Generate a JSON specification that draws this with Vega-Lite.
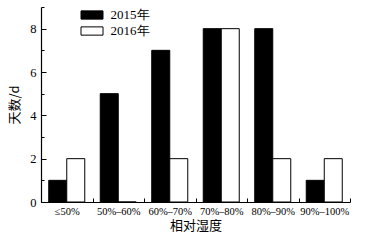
{
  "$schema": "https://vega.github.io/schema/vega-lite/v6.json",
  "width": 309,
  "height": 195,
  "autosize": {"type": "none"},
  "padding": {"left": 41, "top": 7, "right": 18, "bottom": 42},
  "background": "white",
  "config": {
    "view": {"stroke": null},
    "font": "Liberation Serif",
    "axis": {"labelFont": "Liberation Serif", "titleFont": "Noto Sans CJK SC", "labelColor": "black", "titleColor": "black", "domainColor": "black", "tickColor": "black", "grid": false}
  },
  "data": {
    "values": [
      {"rh": "≤50%", "year": "2015年", "days": 1},
      {"rh": "≤50%", "year": "2016年", "days": 2},
      {"rh": "50%–60%", "year": "2015年", "days": 5},
      {"rh": "50%–60%", "year": "2016年", "days": 0},
      {"rh": "60%–70%", "year": "2015年", "days": 7},
      {"rh": "60%–70%", "year": "2016年", "days": 2},
      {"rh": "70%–80%", "year": "2015年", "days": 8},
      {"rh": "70%–80%", "year": "2016年", "days": 8},
      {"rh": "80%–90%", "year": "2015年", "days": 8},
      {"rh": "80%–90%", "year": "2016年", "days": 2},
      {"rh": "90%–100%", "year": "2015年", "days": 1},
      {"rh": "90%–100%", "year": "2016年", "days": 2}
    ]
  },
  "mark": {"type": "bar", "stroke": "black", "strokeWidth": 1},
  "encoding": {
    "x": {
      "field": "rh", "type": "nominal", "sort": null,
      "scale": {"paddingInner": 0, "paddingOuter": 0},
      "axis": {
        "title": "相对湿度", "titleFontSize": 13, "titleFontWeight": "normal", "titlePadding": 3,
        "labelAngle": 0, "labelFontSize": 10.5, "labelPadding": 8,
        "tickBand": "extent", "tickSize": -4, "domainWidth": 1.2
      }
    },
    "xOffset": {"field": "year", "type": "nominal", "scale": {"paddingInner": 0, "paddingOuter": 0.43}},
    "y": {
      "field": "days", "type": "quantitative",
      "scale": {"domain": [0, 9], "nice": false},
      "axis": {
        "title": "天数/d", "titleFontSize": 13, "titleFontWeight": "normal", "titlePadding": 8,
        "values": [0, 1, 2, 3, 4, 5, 6, 7, 8, 9],
        "labelExpr": "datum.value % 2 == 0 ? datum.label : ''",
        "labelFontSize": 12.5, "labelPadding": 10,
        "tickSize": {"condition": {"test": "datum.value % 2 == 1", "value": -3}, "value": -5},
        "domainWidth": 1.2
      }
    },
    "fill": {
      "field": "year", "type": "nominal",
      "scale": {"domain": ["2015年", "2016年"], "range": ["black", "white"]},
      "legend": {
        "title": null, "orient": "none", "legendX": 44.5, "legendY": 1.5,
        "padding": 0, "rowPadding": 2,
        "symbolType": "M-2,-0.75H2V0.75H-2Z", "symbolSize": 121,
        "symbolStrokeColor": "black", "symbolStrokeWidth": 1,
        "labelFont": "Liberation Serif", "labelFontSize": 13, "labelColor": "black", "labelOffset": 12
      }
    }
  }
}
